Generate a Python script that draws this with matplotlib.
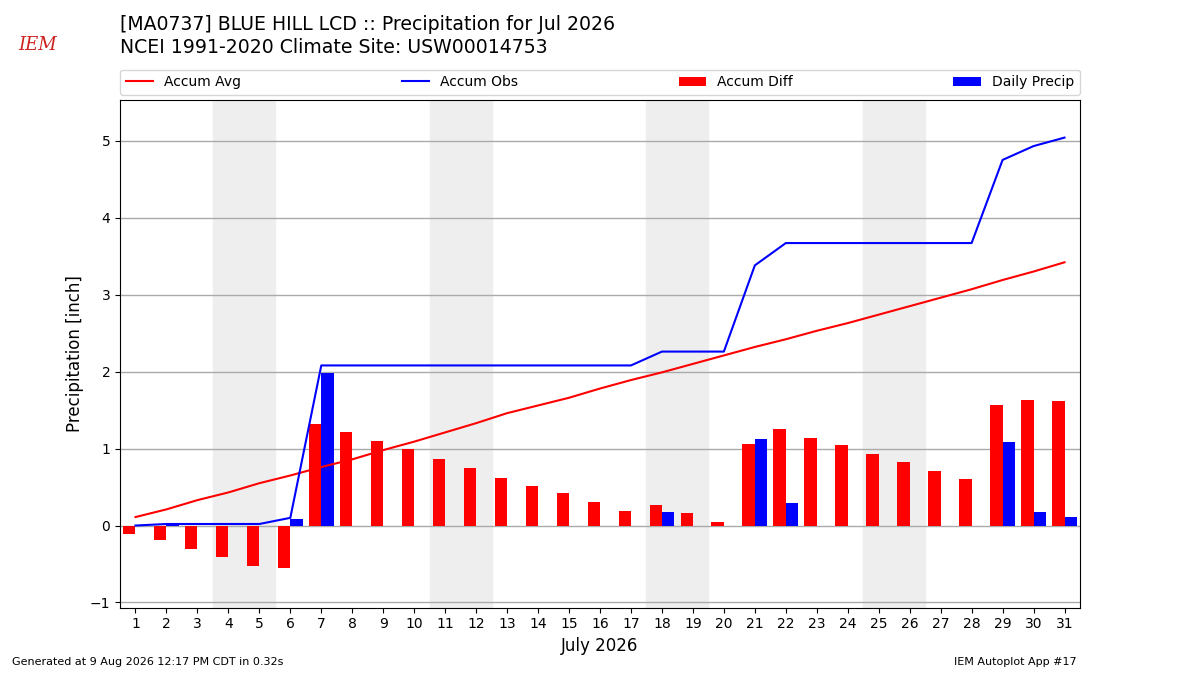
import numpy as np
import matplotlib
matplotlib.use("Agg")
import matplotlib.pyplot as plt

days = list(range(1, 32))
accum_avg = [0.11, 0.21, 0.33, 0.43, 0.55, 0.65, 0.76, 0.86, 0.98, 1.09,
             1.21, 1.33, 1.46, 1.56, 1.66, 1.78, 1.89, 1.99, 2.10, 2.21,
             2.32, 2.42, 2.53, 2.63, 2.74, 2.85, 2.96, 3.07, 3.19, 3.30, 3.42]
accum_obs = [0.00, 0.02, 0.02, 0.02, 0.02, 0.10, 2.08, 2.08, 2.08, 2.08,
             2.08, 2.08, 2.08, 2.08, 2.08, 2.08, 2.08, 2.26, 2.26, 2.26,
             3.38, 3.67, 3.67, 3.67, 3.67, 3.67, 3.67, 3.67, 4.75, 4.93, 5.04]
daily_precip = [0.00, 0.02, 0.00, 0.00, 0.00, 0.08, 1.98, 0.00, 0.00, 0.00,
                0.00, 0.00, 0.00, 0.00, 0.00, 0.00, 0.00, 0.18, 0.00, 0.00,
                1.12, 0.29, 0.00, 0.00, 0.00, 0.00, 0.00, 0.00, 1.08, 0.18, 0.11]
weekends = [(4, 5), (11, 12), (18, 19), (25, 26)]

x = np.array(days)
avg = np.array(accum_avg)
obs = np.array(accum_obs)
diff = obs - avg

fig = plt.figure(figsize=(12, 6.75), dpi=100)
ax = fig.add_axes([0.1, 0.1, 0.8, 0.752])

# weekend shading
for a, b in weekends:
    ax.axvspan(a - 0.5, b + 0.5, color="#eeeeee", zorder=0)

ax.bar(x - 0.2, diff, width=0.4, color="red", label="Accum Diff", zorder=2)
ax.bar(x + 0.2, daily_precip, width=0.4, color="blue", label="Daily Precip", zorder=2)
ax.plot(x, avg, color="red", lw=1.5, label="Accum Avg", zorder=3)
ax.plot(x, obs, color="blue", lw=1.5, label="Accum Obs", zorder=3)

ax.set_xlim(0.5, 31.5)
ax.set_ylim(-1.065, 5.53)
ax.set_xticks(days)
ax.set_yticks(range(-1, 6))
ax.yaxis.grid(True, color="#aaaaaa", lw=1)
ax.set_axisbelow(True)
ax.tick_params(labelsize=10)
ax.set_xlabel("July 2026", fontsize=12)
ax.set_ylabel("Precipitation [inch]", fontsize=12)

ax.legend(loc="lower left", bbox_to_anchor=(0, 1.01, 1, 0.05), mode="expand",
          ncol=4, borderaxespad=0, fontsize=10)

fig.text(0.1, 0.964, "[MA0737] BLUE HILL LCD :: Precipitation for Jul 2026",
         fontsize=13.6, va="center")
fig.text(0.1, 0.929, "NCEI 1991-2020 Climate Site: USW00014753",
         fontsize=13.6, va="center")
# rough stand-in for the IEM logo
fig.text(0.031, 0.933, "IEM", fontsize=13, color="#cc2222", family="serif",
         style="italic", va="center", ha="center")

fig.text(0.01, 0.015, "Generated at 9 Aug 2026 12:17 PM CDT in 0.32s", fontsize=8)
fig.text(0.897, 0.015, "IEM Autoplot App #17", fontsize=8, ha="right")

fig.savefig("out.png", dpi=100)
